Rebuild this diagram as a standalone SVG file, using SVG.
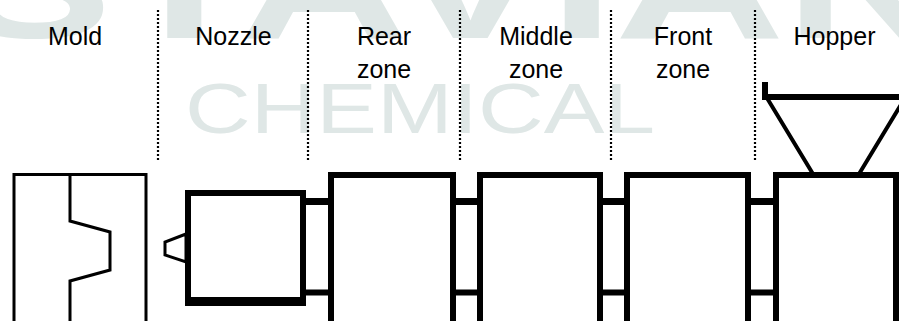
<svg xmlns="http://www.w3.org/2000/svg" width="899" height="321" viewBox="0 0 899 321">
<style>
.wm{font-family:"Liberation Sans",Arial,sans-serif;fill:#dfe7e6}
.lbl{font-family:"Liberation Sans",Arial,sans-serif;font-size:25px;fill:#000;text-anchor:middle}
.div{stroke:#000;stroke-width:2.2;stroke-dasharray:2 2;fill:none}
.box{fill:#fff;stroke:#000;stroke-width:6}
.bar{stroke:#000;fill:none}
.thin{stroke:#000;fill:none;stroke-width:3}
</style>
<rect width="899" height="321" fill="#fff"/>
<g id="watermark">
<text class="wm" x="-45" y="38" font-size="150" font-weight="bold" textLength="1000" lengthAdjust="spacingAndGlyphs">STAVIAN</text>
<text class="wm" x="185" y="133" font-size="71" textLength="470" lengthAdjust="spacingAndGlyphs">CHEMICAL</text>
</g>
<g id="dividers">
<line class="div" x1="158" y1="10" x2="158" y2="162"/>
<line class="div" x1="308" y1="10" x2="308" y2="162"/>
<line class="div" x1="460" y1="10" x2="460" y2="162"/>
<line class="div" x1="611" y1="10" x2="611" y2="162"/>
<line class="div" x1="755" y1="10" x2="755" y2="162"/>
</g>
<g id="labels">
<text class="lbl" x="75" y="45">Mold</text>
<text class="lbl" x="233.5" y="45">Nozzle</text>
<text class="lbl" x="384" y="45">Rear</text>
<text class="lbl" x="384" y="78">zone</text>
<text class="lbl" x="536" y="45">Middle</text>
<text class="lbl" x="536" y="78">zone</text>
<text class="lbl" x="683" y="45">Front</text>
<text class="lbl" x="683" y="78">zone</text>
<text class="lbl" x="834.5" y="45">Hopper</text>
</g>
<g id="connectors">
<path class="bar" stroke-width="7" d="M303,201.5 H331 M453,201.5 H480 M600,201.5 H627 M748,201.5 H776"/>
<path class="bar" stroke-width="6" d="M303,292.5 H331 M453,292.5 H480 M600,292.5 H627 M748,292.5 H776"/>
</g>
<g id="mold">
<path class="thin" stroke-width="3.5" d="M14,321 V174.5 H146 V321"/>
<path class="thin" d="M70,176 V221 L110,232 V270 L70,281 V321"/>
</g>
<g id="nozzle">
<polygon class="thin" stroke-width="2.5" fill="#fff" points="186,234 165,242 165,255 186,262"/>
<rect class="box" x="188" y="193" width="115" height="108"/>
<line class="bar" stroke-width="9" x1="185" y1="301.5" x2="306" y2="301.5"/>
</g>
<g id="rear-zone">
<rect class="box" x="331" y="175" width="122" height="150"/>
</g>
<g id="middle-zone">
<rect class="box" x="480" y="175" width="120" height="150"/>
</g>
<g id="front-zone">
<rect class="box" x="627" y="175" width="121" height="150"/>
</g>
<g id="hopper">
<path class="bar" stroke-width="4" d="M767,98 L813,174 M905,98 L859,174"/>
<path class="bar" stroke-width="6" d="M765,82 V97 H905"/>
<rect class="box" x="776" y="175" width="120" height="150"/>
</g>
</svg>
